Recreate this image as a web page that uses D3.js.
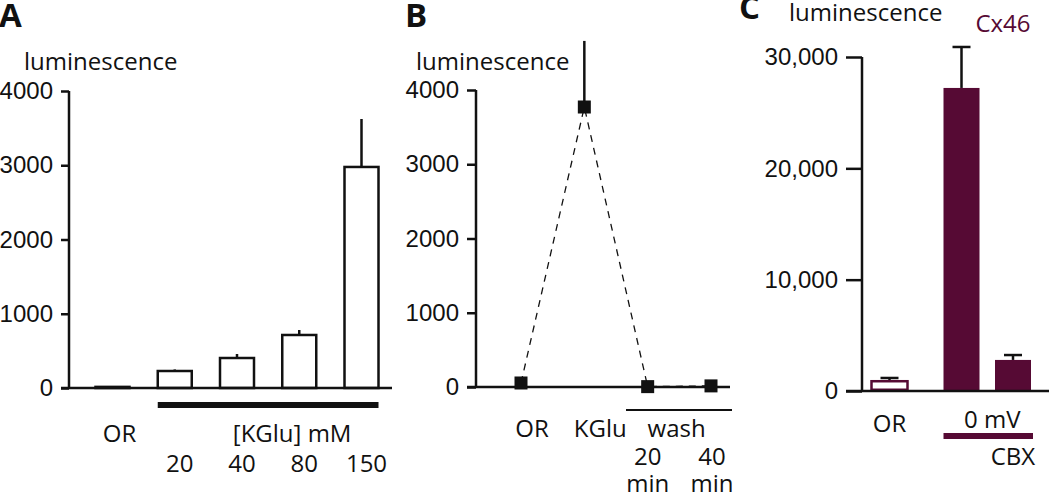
<!DOCTYPE html>
<html>
<head>
<meta charset="utf-8">
<script src="https://cdn.jsdelivr.net/npm/d3@7"></script>
<style>
  body { margin: 0; background: #fff; }
  svg { font-family: 'Open Sans', sans-serif; }
</style>
</head>
<body>
<svg id="chart" width="1050" height="499"></svg>
<script>
// panel A: luminescence vs [KGlu]
const aCategories = ['OR', '20', '40', '80', '150']
const aValues = [15, 229, 404, 714, 2977]
const aErrors = [0, 21, 54, 67, 646]

// panel B: time course
const bCategories = ['OR', 'KGlu', 'wash20', 'wash40']
const bValues = [54, 3771, 5, 15]
const bErrors = [0, 890, 0, 0]
const washLabels = [['20', 'min'], ['40', 'min']]

// panel C: Cx46
const cCategories = ['OR', '0 mV', 'CBX']
const cGroups = [0, 1, 1]
const cValues = [990, 27220, 2790]
const cErrors = [180, 3680, 440]

const yTicksAB = [0, 1000, 2000, 3000, 4000]
const yTicksC = [0, 10000, 20000, 30000]

const maroon = '#560a34'
const fs = 24
const svg = d3.select('#chart')

function styleAxis(g, tickLen) {
    g.select('.domain').remove()
    g.selectAll('.tick line').attr('stroke', '#111').attr('stroke-width', 2.5)
    g.selectAll('.tick text')
        .attr('fill', '#111')
        .attr('font-size', fs)
        .attr('x', -tickLen - 8)
}

function panelLabel(x, y, t) {
    svg.append('text').attr('x', x).attr('y', y)
        .attr('font-size', 33).attr('font-weight', 700)
        .attr('fill', '#111').text(t)
}
function label(x, y, t, anchor, color) {
    return svg.append('text').attr('x', x).attr('y', y)
        .attr('text-anchor', anchor || 'middle')
        .attr('font-size', fs).attr('fill', color || '#111').text(t)
}

// ---------- A ----------
{
    const y = d3.scaleLinear().domain([0, 4000]).range([388, 91])
    const x = d3.scalePoint().domain(aCategories).range([112.5, 361.5])
    const axisX = 69, tick = 8
    const g = svg.append('g').attr('class', 'panelA')

    g.append('g').attr('transform', `translate(${axisX},0)`)
        .call(d3.axisLeft(y).tickValues(yTicksAB).tickSize(tick).tickFormat(d3.format('d')))
        .call(a => styleAxis(a, tick))
    g.append('line').attr('x1', axisX).attr('x2', axisX)
        .attr('y1', y(4000)).attr('y2', y(0))
        .attr('stroke', '#111').attr('stroke-width', 2.5)

    const bw = 34
    g.selectAll('line.err').data(aValues).join('line').attr('class', 'err')
        .attr('x1', (d, i) => x(aCategories[i])).attr('x2', (d, i) => x(aCategories[i]))
        .attr('y1', d => y(d)).attr('y2', (d, i) => y(d + aErrors[i]))
        .attr('stroke', '#111').attr('stroke-width', 2.5)
    g.selectAll('rect').data(aValues).join('rect')
        .attr('x', (d, i) => x(aCategories[i]) - bw / 2)
        .attr('width', bw)
        .attr('y', d => y(d))
        .attr('height', d => y(0) - y(d))
        .attr('fill', '#fff').attr('stroke', '#111').attr('stroke-width', 2.5)

    g.append('line').attr('x1', axisX - tick).attr('x2', 392)
        .attr('y1', y(0)).attr('y2', y(0))
        .attr('stroke', '#111').attr('stroke-width', 2.5)
    // KGlu bar
    g.append('line').attr('x1', x('20') - bw / 2).attr('x2', x('150') + bw / 2)
        .attr('y1', 405).attr('y2', 405)
        .attr('stroke', '#111').attr('stroke-width', 6)

    panelLabel(-1, 27, 'A')
    label(24, 70, 'luminescence', 'start')
    label(x('OR') + 7, 442, 'OR')
    label((x('40') + x('80')) / 2 + 24, 442, '[KGlu] mM')
    aCategories.slice(1).forEach(c => label(x(c) + 5, 472, c))
}

// ---------- B ----------
{
    const y = d3.scaleLinear().domain([0, 4000]).range([387, 90])
    const x = d3.scalePoint().domain(bCategories).range([521, 711])
    const axisX = 476, tick = 9
    const g = svg.append('g').attr('class', 'panelB')

    g.append('g').attr('transform', `translate(${axisX},0)`)
        .call(d3.axisLeft(y).tickValues(yTicksAB).tickSize(tick).tickFormat(d3.format('d')))
        .call(a => styleAxis(a, tick))
    g.append('line').attr('x1', axisX).attr('x2', axisX)
        .attr('y1', y(4000)).attr('y2', y(0))
        .attr('stroke', '#111').attr('stroke-width', 2.5)
    g.append('line').attr('x1', axisX - tick).attr('x2', 730)
        .attr('y1', y(0)).attr('y2', y(0))
        .attr('stroke', '#111').attr('stroke-width', 2.5)

    const line = d3.line().x((d, i) => x(bCategories[i])).y(d => y(d))
    g.append('path').datum(bValues).attr('d', line)
        .attr('fill', 'none').attr('stroke', '#111').attr('stroke-width', 1.3)
        .attr('stroke-dasharray', '7,6')
    g.selectAll('line.err').data(bValues.filter((d, i) => bErrors[i] > 0)).join('line').attr('class', 'err')
        .attr('x1', x('KGlu')).attr('x2', x('KGlu'))
        .attr('y1', y(bValues[1])).attr('y2', y(bValues[1] + bErrors[1]))
        .attr('stroke', '#111').attr('stroke-width', 2.5)
    const m = 13
    g.selectAll('rect').data(bValues).join('rect')
        .attr('x', (d, i) => x(bCategories[i]) - m / 2)
        .attr('y', d => y(d) - m / 2)
        .attr('width', m).attr('height', m).attr('fill', '#111')

    // wash bar
    g.append('line').attr('x1', 626).attr('x2', 732)
        .attr('y1', 410).attr('y2', 410)
        .attr('stroke', '#111').attr('stroke-width', 2.2)

    panelLabel(405, 27, 'B')
    label(416, 70, 'luminescence', 'start')
    label(x('OR') + 11, 437, 'OR')
    label(x('KGlu') + 16, 437, 'KGlu')
    label(x('wash20') + 29, 437, 'wash')
    washLabels.forEach((lines, i) => {
        const cx = x(bCategories[i + 2]) + i
        const t = label(cx, 465, '')
        lines.forEach((s, k) => t.append('tspan').attr('x', cx).attr('dy', k ? 27 : 0).text(s))
    })
}

// ---------- C ----------
{
    const y = d3.scaleLinear().domain([0, 30000]).range([391, 57])
    const slot = 51.5, gap = 20.5
    const x = d3.scaleLinear().domain([0, 1]).range([889.5, 889.5 + slot])
    const xc = (i) => x(i + cGroups[i] * gap / slot)
    const axisX = 862, tick = 16
    const g = svg.append('g').attr('class', 'panelC')

    g.append('g').attr('transform', `translate(${axisX},0)`)
        .call(d3.axisLeft(y).tickValues(yTicksC).tickSize(tick).tickFormat(d3.format(',')))
        .call(a => styleAxis(a, tick))
    g.append('line').attr('x1', axisX).attr('x2', axisX)
        .attr('y1', y(30000)).attr('y2', y(0))
        .attr('stroke', '#111').attr('stroke-width', 2.5)

    const bw = 36, cap = 18
    g.selectAll('line.err').data(cValues).join('line').attr('class', 'err')
        .attr('x1', (d, i) => xc(i)).attr('x2', (d, i) => xc(i))
        .attr('y1', d => y(d)).attr('y2', (d, i) => y(d + cErrors[i]))
        .attr('stroke', '#111').attr('stroke-width', 2.5)
    g.selectAll('line.cap').data(cValues).join('line').attr('class', 'cap')
        .attr('x1', (d, i) => xc(i) - cap / 2).attr('x2', (d, i) => xc(i) + cap / 2)
        .attr('y1', (d, i) => y(d + cErrors[i])).attr('y2', (d, i) => y(d + cErrors[i]))
        .attr('stroke', '#111').attr('stroke-width', 2.5)
    g.selectAll('rect').data(cValues).join('rect')
        .attr('x', (d, i) => xc(i) - bw / 2)
        .attr('width', bw)
        .attr('y', (d, i) => y(d) + (i === 0 ? 1.25 : 0))
        .attr('height', (d, i) => y(0) - y(d) - (i === 0 ? 2.5 : 0))
        .attr('fill', (d, i) => i === 0 ? '#fff' : maroon)
        .attr('stroke', maroon).attr('stroke-width', (d, i) => i === 0 ? 2.5 : 0)

    g.append('line').attr('x1', axisX - tick).attr('x2', 1049)
        .attr('y1', y(0)).attr('y2', y(0))
        .attr('stroke', '#111').attr('stroke-width', 2.5)
    g.append('line').attr('x1', xc(1) - bw / 2).attr('x2', xc(2) + bw / 2 + 2)
        .attr('y1', 436).attr('y2', 436)
        .attr('stroke', maroon).attr('stroke-width', 6)

    panelLabel(739, 19, 'C')
    label(789, 21, 'luminescence', 'start')
    label(1003, 32, 'Cx46', 'middle', maroon)
    label(xc(0), 432, 'OR')
    label((xc(1) + xc(2)) / 2 + 5, 428, '0 mV')
    label(xc(2), 465, 'CBX')
}
</script>
</body>
</html>
